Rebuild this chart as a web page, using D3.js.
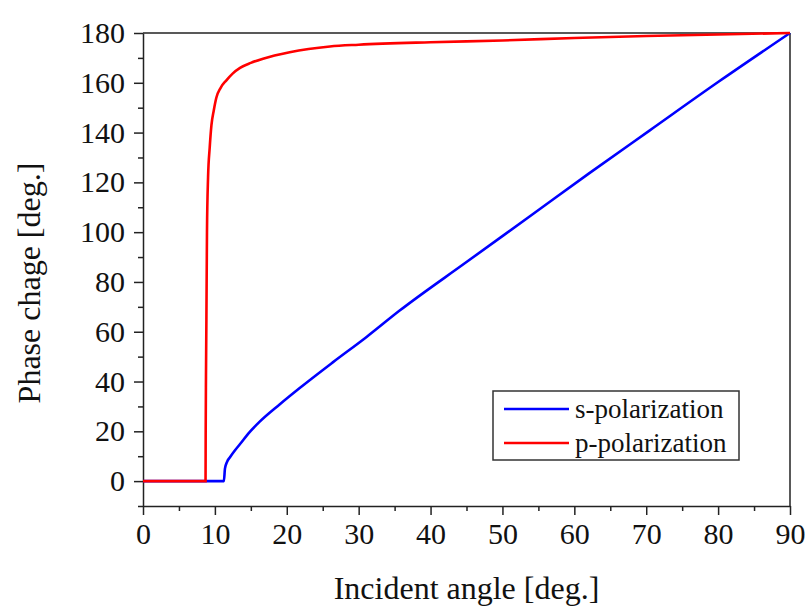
<!DOCTYPE html>
<meta charset="utf-8">
<style>
body { margin: 0; background: #fff; }
svg { display: block; }
text { font-family: "Liberation Serif", "Times New Roman", serif; fill: #111; }
.axis path, .axis line { stroke: #222; stroke-width: 1.5px; }
.axis text { font-size: 30px; font-family: "Liberation Serif", serif; fill: #111; }
.curve { fill: none; stroke-width: 2.6px; }
</style>
<body>
<script src="https://cdn.jsdelivr.net/npm/d3@7"></script>
<script>

// s-polarization: [incident angle, phase change]
var sAngle = [0, 11.25, 11.4, 11.7, 12.1, 12.8, 13.5, 14.8, 16.2, 19, 21.8, 26.4, 31.1, 35.7, 45, 54.3, 62, 70.5, 80, 90];
var sPhase = [0, 0, 5, 7.8, 9.6, 12.4, 14.9, 19.6, 23.8, 30.8, 37.4, 47.7, 57.9, 68.5, 88, 107.4, 123.5, 140.9, 160.3, 180];

// p-polarization
var pAngle = [0, 8.7, 8.72, 8.76, 8.82, 8.9, 9.05, 9.28, 9.52, 9.85, 10.2, 10.8, 11.6, 12.5, 13.5, 15, 16.7, 20.4, 26, 30, 40, 50, 60, 70, 80, 90];
var pPhase = [0, 0, 20, 42, 65, 100, 122, 134, 143, 149, 154, 158, 161, 163.8, 166, 168, 169.7, 172.3, 174.6, 175.3, 176.3, 177, 178, 178.8, 179.4, 180];

var xTicks = [0, 10, 20, 30, 40, 50, 60, 70, 80, 90];
var yTicks = [0, 20, 40, 60, 80, 100, 120, 140, 160, 180];

var seriesNames = ["s-polarization", "p-polarization"];
var seriesColors = ["#0000ff", "#ff0000"];

var width = 808, height = 608;
var margin = {top: 33, right: 18, bottom: 102, left: 143};
var w = width - margin.left - margin.right,
    h = height - margin.top - margin.bottom;

var svg = d3.select("body").append("svg")
    .attr("width", width)
    .attr("height", height);

var g = svg.append("g")
    .attr("transform", "translate(" + margin.left + "," + margin.top + ")");

var x = d3.scaleLinear().domain([0, 90]).range([0, w]);
var y = d3.scaleLinear().domain([-10, 180]).range([h, 0]);

// minor ticks first
g.append("g")
    .attr("class", "axis")
    .attr("transform", "translate(0," + h + ")")
    .call(d3.axisBottom(x).tickValues(d3.range(5, 90, 10)).tickSize(5).tickFormat(""))
    .select(".domain").remove();

g.append("g")
    .attr("class", "axis")
    .call(d3.axisLeft(y).tickValues(d3.range(-10, 180, 20)).tickSize(5).tickFormat(""))
    .select(".domain").remove();

// major ticks + labels
g.append("g")
    .attr("class", "axis")
    .attr("transform", "translate(0," + h + ")")
    .call(d3.axisBottom(x).tickValues(xTicks).tickSize(9).tickSizeOuter(0).tickPadding(8));

g.append("g")
    .attr("class", "axis")
    .call(d3.axisLeft(y).tickValues(yTicks).tickSize(9).tickSizeOuter(0).tickPadding(9));

// top and right frame
g.append("line")
    .attr("x1", 0).attr("x2", w).attr("y1", 0).attr("y2", 0)
    .attr("stroke", "#222").attr("stroke-width", 1.5);
g.append("line")
    .attr("x1", w).attr("x2", w).attr("y1", 0).attr("y2", h)
    .attr("stroke", "#222").attr("stroke-width", 1.5);

var line = d3.line()
    .x(function(d) { return x(d[0]); })
    .y(function(d) { return y(d[1]); })
    .curve(d3.curveMonotoneX);

var sData = sAngle.map(function(a, i) { return [a, sPhase[i]]; });
var pData = pAngle.map(function(a, i) { return [a, pPhase[i]]; });

g.append("path")
    .datum(sData)
    .attr("class", "curve")
    .attr("stroke", seriesColors[0])
    .attr("d", line);

g.append("path")
    .datum(pData)
    .attr("class", "curve")
    .attr("stroke", seriesColors[1])
    .attr("d", line);

// legend
var legend = svg.append("g")
    .attr("transform", "translate(493,391)");

legend.append("rect")
    .attr("width", 246)
    .attr("height", 69)
    .attr("fill", "#fff")
    .attr("stroke", "#333")
    .attr("stroke-width", 1.5);

seriesNames.forEach(function(name, i) {
    var row = legend.append("g")
        .attr("transform", "translate(0," + (18 + i * 34) + ")");
    row.append("line")
        .attr("x1", 11).attr("x2", 76)
        .attr("stroke", seriesColors[i])
        .attr("stroke-width", 2.6);
    row.append("text")
        .attr("x", 82)
        .attr("dy", "0.33em")
        .style("font-size", "27px")
        .text(name);
});

// axis titles
svg.append("text")
    .attr("x", margin.left + w / 2)
    .attr("y", 599)
    .attr("text-anchor", "middle")
    .style("font-size", "32px")
    .text("Incident angle [deg.]");

svg.append("text")
    .attr("transform", "translate(40," + (margin.top + 250) + ") rotate(-90)")
    .attr("text-anchor", "middle")
    .style("font-size", "32px")
    .text("Phase chage [deg.]");

</script>
</body>
